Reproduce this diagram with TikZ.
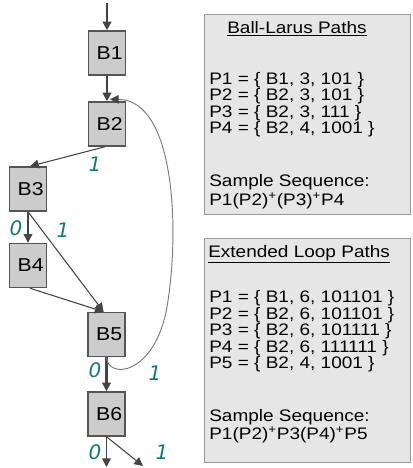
\documentclass[tikz,border=0pt]{standalone}
\usepackage{fontspec}
\setmainfont[FakeStretch=1.14]{Liberation Sans}
\newfontfamily\bitfont{DejaVu Sans}
\usetikzlibrary{arrows.meta,calc}

\definecolor{blockfill}{HTML}{CCCCCC}
\definecolor{blockline}{HTML}{555555}
\definecolor{edgegray}{HTML}{444444}
\definecolor{backgray}{HTML}{7A7A7A}
\definecolor{bitteal}{HTML}{147878}
\definecolor{panelfill}{HTML}{E6E6E6}
\definecolor{panelline}{HTML}{9A9A9A}

\begin{document}
\begin{tikzpicture}[x=0.75pt,y=-0.75pt,
  block/.style={draw=blockline, fill=blockfill, line width=1.1pt,
    minimum width=27.5pt, minimum height=33pt, inner sep=0pt,
    font=\fontsize{14}{16}\selectfont,
    execute at begin node={\hspace*{4pt}}},
  bit/.style={text=bitteal, inner sep=0pt,
    font=\bitfont\itshape\fontsize{15}{18}\selectfont},
  heavy/.style={draw=edgegray, line width=1.6pt, -{Triangle[length=6.5pt,width=6.5pt]}},
  medium/.style={draw=edgegray, line width=1.1pt, -{Triangle[length=6.5pt,width=6.5pt]}},
  light/.style={draw=edgegray, line width=0.8pt, -{Triangle[length=6.5pt,width=6.5pt]}},
  back/.style={draw=backgray, line width=0.7pt,
    -{Triangle[length=6.5pt,width=6.5pt,color=edgegray,fill=edgegray]}},
  panel/.style={draw=panelline, fill=panelfill, line width=0.8pt,
    anchor=north west, inner sep=0pt, minimum width=154.5pt},
  paneltext/.style={anchor=base west, inner sep=0pt,
    font=\fontsize{12.5}{13}\selectfont}
]
\useasboundingbox (0,0) rectangle (412,468);

% basic blocks of the control-flow graph
\node[block] (B1) at (107,53) {B1};
\node[block] (B2) at (107,124) {B2};
\node[block] (B3) at (28,189) {B3};
\node[block] (B4) at (28,265.5) {B4};
\node[block] (B5) at (106.5,334.5) {B5};
\node[block] (B6) at (106.5,414) {B6};

\coordinate (entry) at (107,3);
\coordinate (exit0) at (106.5,467);
\coordinate (exit1) at (143,466);

% edges
\draw[heavy] (entry) -- (B1);
\draw[heavy] (B1) -- (B2);
\draw[light] ([xshift=-1.5pt]B2.south) -- ([xshift=1.5pt]B3.north);
\draw[medium] (B3) -- (B4);
\draw[light] (B3.south) -- ([xshift=-2.2pt]B5.north);
\draw[light] ([xshift=1.5pt]B4.south) -- ([xshift=-2.2pt]B5.north);
\draw[heavy] (B5) -- (B6);
\draw[medium] (B6) -- (exit0);
\draw[light] (B6.south) -- (exit1);

% loop back edge from B5 to B2
\draw[back] (B5.south) .. controls (108,380) and (155,375) .. (167,307)
  .. controls (180,230) and (175,100) .. ($(B2.north)+(3,-2)$);

% branch bits
\node[bit] (b23) at (95,164) {1};
\node[bit] (b34) at (16,228) {0};
\node[bit] (b35) at (63,230) {1};
\node[bit] (b56) at (95,370) {0};
\node[bit] (b52) at (155,373) {1};
\node[bit] (b6a) at (95,452) {0};
\node[bit] (b6b) at (162,452) {1};

% Ball-Larus panel
\node[panel, minimum height=150pt] (blpanel) at (204,14) {};
\node[paneltext] (bltitle) at (227,33) {\underline{Ball-Larus Paths}};
\node[paneltext] (blp1) at (209,84) {P1 = \{ B1, 3, 101 \}};
\node[paneltext] (blp2) at (209,100.5) {P2 = \{ B2, 3, 101 \}};
\node[paneltext] (blp3) at (209,117) {P3 = \{ B2, 3, 111 \}};
\node[paneltext] (blp4) at (209,133.5) {P4 = \{ B2, 4, 1001 \}};
\node[paneltext] (blss) at (209,186.5) {Sample Sequence:};
\node[paneltext] (blseq) at (209,205) {P1(P2)\textsuperscript{+}(P3)\textsuperscript{+}P4};

% extended loop panel
\node[panel, minimum height=168pt] (elpanel) at (204,238) {};
\node[paneltext] (eltitle) at (208,257) {\underline{Extended Loop Paths}};
\node[paneltext] (elp1) at (209,302.5) {P1 = \{ B1, 6, 101101 \}};
\node[paneltext] (elp2) at (209,319) {P2 = \{ B2, 6, 101101 \}};
\node[paneltext] (elp3) at (209,335.5) {P3 = \{ B2, 6, 101111 \}};
\node[paneltext] (elp4) at (209,352) {P4 = \{ B2, 6, 111111 \}};
\node[paneltext] (elp5) at (209,368.5) {P5 = \{ B2, 4, 1001 \}};
\node[paneltext] (elss) at (209,421) {Sample Sequence:};
\node[paneltext] (elseq) at (209,439.5) {P1(P2)\textsuperscript{+}P3(P4)\textsuperscript{+}P5};
\end{tikzpicture}
\end{document}
